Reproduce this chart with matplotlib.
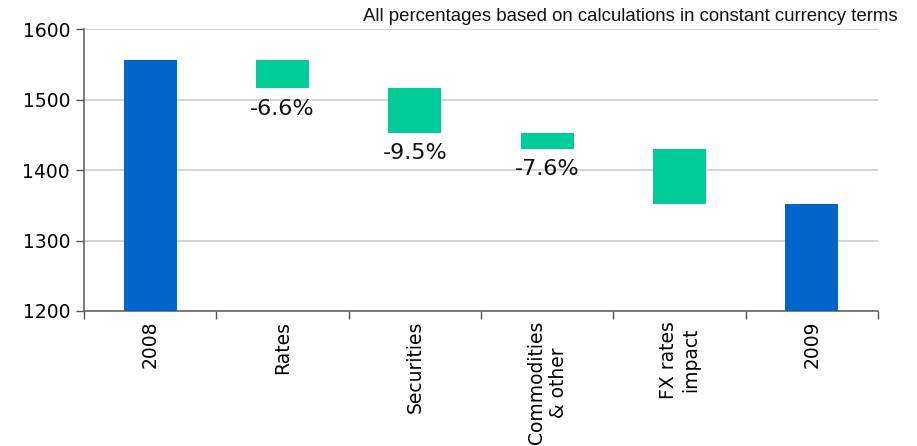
import matplotlib
matplotlib.use("Agg")
import matplotlib.pyplot as plt
import numpy as np

categories = ["2008", "Rates", "Securities", "Commodities\n& other", "FX rates\nimpact", "2009"]
totals = {"2008": 1557, "2009": 1352}
changes = [-41, -63, -23, -78]
pct_labels = ["-6.6%", "-9.5%", "-7.6%", ""]
yticks = [1200, 1300, 1400, 1500, 1600]
note = "All percentages based on calculations in constant currency terms"

blue = "#0066CC"
green = "#00CC99"

fig = plt.figure(figsize=(9.17, 4.46), dpi=100)
ax = fig.add_axes([0.0916, 0.3027, 0.8659, 0.6316])

x = np.arange(len(categories))
w = 0.4
base = 1200

# start total
ax.bar(x[0], totals["2008"] - base, bottom=base, width=w, color=blue, zorder=3)
level = totals["2008"]
for i, (d, lab) in enumerate(zip(changes, pct_labels)):
    new = level + d
    ax.bar(x[i + 1], level - new, bottom=new, width=w, color=green, zorder=3)
    if lab:
        ax.annotate(lab, (x[i + 1], new), xytext=(0, -7.5), textcoords="offset points",
                    ha="center", va="top", fontsize=16, color="#111111", zorder=4)
    level = new
ax.bar(x[-1], totals["2009"] - base, bottom=base, width=w, color=blue, zorder=3)

ax.set_xlim(-0.5, len(categories) - 0.5)
ax.set_ylim(1200, 1600)
ax.set_yticks(yticks)
ax.set_yticklabels([str(v) for v in yticks], fontsize=13.5)
ax.yaxis.grid(True, color="#cccccc", linewidth=1.2, zorder=0)
ax.set_axisbelow(True)

ax.set_xticks(x)
ax.set_xticklabels(categories, rotation=90, fontsize=13.5, ha="center", va="top",
                   multialignment="center")
ax.tick_params(axis="x", which="major", length=0, pad=7)
ax.set_xticks(np.arange(-0.5, len(categories), 1.0), minor=True)
ax.tick_params(axis="x", which="minor", length=6, width=1, color="#555555", direction="out")
ax.tick_params(axis="y", length=6, width=1, color="#555555", direction="out", pad=4)

for s in ["top", "right"]:
    ax.spines[s].set_visible(False)
for s in ["left", "bottom"]:
    ax.spines[s].set_color("#666666")
    ax.spines[s].set_linewidth(1.2)

fig.text(0.979, 0.963, note, ha="right", va="center", fontsize=13.4,
         family="Liberation Sans", color="#111111")

fig.savefig("out.png", dpi=100)
